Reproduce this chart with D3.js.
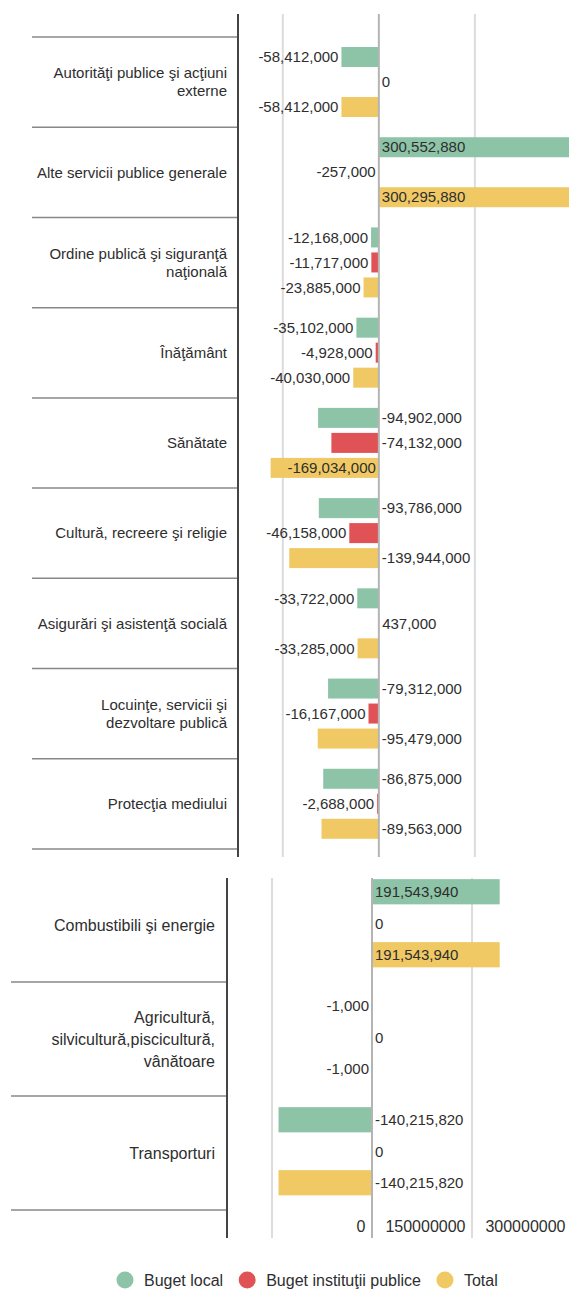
<!DOCTYPE html>
<html>
<head>
<meta charset="utf-8">
<script src="https://cdn.jsdelivr.net/npm/d3@7"></script>
<style>
  html, body { margin: 0; padding: 0; background: #fff; }
  svg { display: block; font-family: "Liberation Sans", Arial, sans-serif; }
</style>
</head>
<body>
<svg id="chart" width="569" height="1290"></svg>
<script>
// ---------------- DATA ----------------
const seriesNames = ["Buget local", "Buget instituţii publice", "Total"];

const categoriesTop = [
  "Autorităţi publice şi acţiuni\nexterne",
  "Alte servicii publice generale",
  "Ordine publică şi siguranţă\nnaţională",
  "Înăţământ",
  "Sănătate",
  "Cultură, recreere şi religie",
  "Asigurări şi asistenţă socială",
  "Locuinţe, servicii şi\ndezvoltare publică",
  "Protecţia mediului"
];
const localTop = [-58412000, 300552880, -12168000, -35102000, -94902000, -93786000, -33722000, -79312000, -86875000];
const institTop = [0, -257000, -11717000, -4928000, -74132000, -46158000, 437000, -16167000, -2688000];
const totalTop = [-58412000, 300295880, -23885000, -40030000, -169034000, -139944000, -33285000, -95479000, -89563000];

const categoriesBottom = [
  "Combustibili şi energie",
  "Agricultură,\nsilvicultură,piscicultură,\nvânătoare",
  "Transporturi"
];
const localBottom = [191543940, -1000, -140215820];
const institBottom = [0, 0, 0];
const totalBottom = [191543940, -1000, -140215820];

const tickValues = [0, 150000000, 300000000];
const tickLabels = ["0", "150000000", "300000000"];
const gridValues = [-150000000, 0, 150000000, 300000000];

// ---------------- STYLE ----------------
const W = 569;
const colors = d3.scaleOrdinal().domain(seriesNames).range(["#8dc4a7", "#e05256", "#f0c964"]);
const textColor = "#2e2e2e";
const fmt = d3.formatLocale({ decimal: ".", thousands: ",", grouping: [3], currency: ["", ""], minus: "-" }).format(",");

const svg = d3.select("#chart");

function rowsFrom(cats, a, b, c) {
  return cats.map((cat, i) => ({
    cat,
    vals: [a[i], b[i], c[i]].map((v, j) => ({ cat, series: seriesNames[j], v }))
  }));
}

function drawPanel(cfg, rows) {
  const x = d3.scaleLinear().domain(cfg.domain).range([cfg.axisX, W]);
  const y = d3.scaleBand().domain(rows.map(r => r.cat)).range([cfg.y0, cfg.y1]);
  const yi = d3.scaleBand().domain(seriesNames).range(cfg.inner).paddingInner(0.2).paddingOuter(0.1);
  const g = svg.append("g");

  const clipId = "clip" + cfg.id;
  svg.append("clipPath").attr("id", clipId).append("rect")
    .attr("x", cfg.axisX).attr("y", cfg.axisTop).attr("width", W - cfg.axisX).attr("height", cfg.axisBottom - cfg.axisTop);

  // gridlines
  g.append("g").selectAll("line").data(gridValues.filter(d => d !== 0)).join("line")
    .attr("x1", d => x(d)).attr("x2", d => x(d))
    .attr("y1", cfg.axisTop).attr("y2", cfg.axisBottom)
    .attr("stroke", "#dcdcdc").attr("stroke-width", 2);

  // separators
  const seps = rows.map(r => y(r.cat) + y.bandwidth());
  if (cfg.topSep) seps.unshift(cfg.y0);
  g.append("g").selectAll("line").data(seps).join("line")
    .attr("x1", cfg.sepX).attr("x2", cfg.axisX)
    .attr("y1", d => d).attr("y2", d => d)
    .attr("stroke", "#888").attr("stroke-width", 1.5);

  // bars
  const all = rows.flatMap(r => r.vals);
  g.append("g").attr("clip-path", `url(#${clipId})`).selectAll("rect").data(all).join("rect")
    .attr("x", d => Math.min(x(d.v), x(0)))
    .attr("width", d => Math.abs(x(d.v) - x(0)))
    .attr("y", d => y(d.cat) + yi(d.series))
    .attr("height", yi.bandwidth())
    .attr("fill", d => colors(d.series));

  // zero line
  g.append("line").attr("x1", x(0)).attr("x2", x(0))
    .attr("y1", cfg.axisTop).attr("y2", cfg.axisBottom)
    .attr("stroke", "#b4b4b4").attr("stroke-width", 2);

  // left axis
  g.append("line").attr("x1", cfg.axisX).attr("x2", cfg.axisX)
    .attr("y1", cfg.axisTop).attr("y2", cfg.axisBottom)
    .attr("stroke", "#444").attr("stroke-width", 2);

  // category labels
  g.append("g").selectAll("text").data(rows).join("text")
    .attr("text-anchor", "end")
    .attr("font-size", cfg.catSize)
    .attr("fill", textColor)
    .each(function (r) {
      const lines = r.cat.split("\n");
      const cy = y(r.cat) + y.bandwidth() / 2;
      const t = d3.select(this);
      lines.forEach((ln, i) => {
        t.append("tspan").attr("x", cfg.axisX - cfg.catGap)
          .attr("y", cy + (i - (lines.length - 1) / 2) * cfg.lineH)
          .attr("dy", "0.35em").text(ln);
      });
    });

  // value labels
  const labels = g.append("g").selectAll("text").data(all).join("text")
    .attr("font-size", cfg.valSize)
    .attr("fill", textColor)
    .attr("y", d => y(d.cat) + yi(d.series) + yi.bandwidth() / 2)
    .attr("dy", "0.35em")
    .text(d => fmt(d.v));
  labels.each(function (d) {
    const t = d3.select(this);
    const w = this.getComputedTextLength();
    const x0 = x(0), xv = x(d.v), len = Math.abs(xv - x0);
    if (d.v < 0) {
      if (xv - 3 - w >= cfg.axisX + 12) t.attr("text-anchor", "end").attr("x", xv - 3);
      else if (len >= w + 12) t.attr("text-anchor", "end").attr("x", x0 - 3);
      else t.attr("text-anchor", "start").attr("x", x0 + 3);
    } else {
      if (xv + 3 + w <= W) t.attr("text-anchor", "start").attr("x", xv + 3);
      else t.attr("text-anchor", "start").attr("x", x0 + 3);
    }
  });
  return x;
}

drawPanel({
  id: "top", y0: 37, y1: 849, axisTop: 14, axisBottom: 857, axisX: 238, sepX: 32,
  domain: [-220000000, 297000000], inner: [7.5, 82.5], topSep: true,
  catSize: 15, catGap: 11, lineH: 18, valSize: 15
}, rowsFrom(categoriesTop, localTop, institTop, totalTop));

const xb = drawPanel({
  id: "bottom", y0: 868, y1: 1210, axisTop: 878, axisBottom: 1238, axisX: 227, sepX: 11,
  domain: [-217500000, 295500000], inner: [8, 102.5], topSep: false,
  catSize: 16, catGap: 12, lineH: 22, valSize: 15
}, rowsFrom(categoriesBottom, localBottom, institBottom, totalBottom));

// bottom axis tick labels
const axisG = svg.append("g").attr("transform", "translate(0,1226)")
  .call(d3.axisBottom(xb).tickValues(tickValues).tickFormat((d, i) => tickLabels[i]).tickSize(0).tickPadding(0));
axisG.select(".domain").remove();
axisG.selectAll("text")
  .attr("font-family", "Liberation Sans, Arial, sans-serif")
  .attr("font-size", 16).attr("fill", textColor)
  .attr("text-anchor", "end").attr("x", -7).attr("y", 0).attr("dy", "0.35em");

// legend
const legend = svg.append("g").attr("transform", "translate(0,1280)");
let cx = 125;
seriesNames.forEach(name => {
  const it = legend.append("g");
  it.append("circle").attr("cx", cx).attr("cy", 0).attr("r", 8.5).attr("fill", colors(name));
  const t = it.append("text").attr("x", cx + 19).attr("y", 0).attr("dy", "0.35em")
    .attr("font-size", 16).attr("fill", textColor).text(name);
  cx += 19 + t.node().getComputedTextLength() + 24;
});
</script>
</body>
</html>
